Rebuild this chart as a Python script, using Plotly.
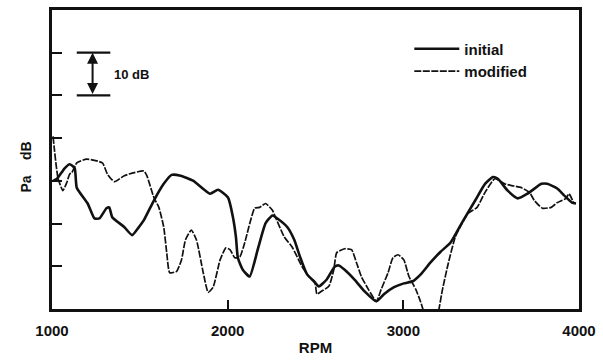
import plotly.graph_objects as go

# Engine speed sweep, relative sound pressure level (dB, 10 dB per tick)
rpm_initial = [1006, 1028, 1073, 1101, 1129, 1141, 1203, 1242, 1270, 1310, 1326, 1343,
               1411, 1456, 1495, 1523, 1580, 1636, 1681, 1732, 1805, 1900, 1945, 2002,
               2030, 2047, 2058, 2086, 2125, 2171, 2216, 2255, 2283, 2339, 2379, 2412,
               2452, 2491, 2519, 2564, 2609, 2632, 2666, 2722, 2778, 2846, 2891, 2947,
               3003, 3054, 3099, 3155, 3212, 3268, 3335, 3409, 3465, 3510, 3538, 3594,
               3651, 3707, 3786, 3819, 3876, 3915, 3960, 3983]
db_initial = [30.0, 30.5, 33.0, 33.9, 33.0, 28.4, 24.7, 21.2, 21.2, 23.6, 23.8, 21.5,
              19.2, 17.3, 19.2, 20.8, 25.4, 29.3, 31.4, 31.2, 30.0, 27.0, 27.9, 26.1,
              21.5, 16.9, 12.0, 9.2, 7.6, 13.9, 20.1, 21.9, 21.2, 19.2, 16.2, 12.2,
              8.1, 6.5, 5.3, 6.9, 9.9, 10.2, 9.2, 6.9, 4.2, 1.8, 3.5, 5.1,
              6.0, 6.5, 8.1, 10.9, 13.4, 15.5, 20.3, 25.4, 29.3, 30.9, 30.5, 27.7,
              25.9, 27.0, 29.3, 29.3, 28.2, 26.6, 24.9, 24.7]

rpm_modified = [1006, 1034, 1062, 1084, 1101, 1113, 1141, 1197, 1287, 1315, 1355, 1411,
                1439, 1523, 1540, 1580, 1608, 1636, 1653, 1670, 1709, 1737, 1760, 1793,
                1822, 1861, 1889, 1917, 1957, 1990, 2013, 2041, 2069, 2097, 2154, 2182,
                2216, 2255, 2272, 2322, 2367, 2424, 2463, 2497, 2508, 2536, 2576, 2604,
                2621, 2666, 2705, 2733, 2761, 2801, 2846, 2874, 2913, 2941, 2970, 3003,
                3032, 3071, 3099, 3116, 3138, 3183, 3200, 3223, 3257, 3296, 3335, 3369,
                3420, 3465, 3521, 3577, 3617, 3673, 3718, 3746, 3791, 3842, 3876, 3926,
                3943, 3971]
db_modified = [40.4, 30.7, 27.7, 29.6, 31.6, 31.9, 34.2, 35.1, 34.2, 31.6, 29.8, 31.2,
               31.6, 32.3, 31.2, 26.1, 23.8, 19.2, 13.2, 8.5, 8.8, 11.5, 16.2, 18.5,
               16.2, 8.5, 3.9, 5.1, 11.5, 14.3, 13.9, 12.0, 12.2, 15.5, 23.6, 23.8,
               24.7, 23.1, 21.5, 16.9, 14.5, 9.9, 7.6, 6.2, 3.5, 4.2, 5.3, 9.2,
               13.2, 14.1, 13.9, 10.9, 7.6, 4.6, 1.8, 4.6, 8.5, 12.0, 12.7, 11.5,
               7.6, 4.6, 1.6, -0.7, -4.5, -4.5, -0.7, 4.6, 10.9, 16.9, 20.1, 22.4,
               23.8, 27.3, 30.5, 29.3, 28.9, 28.4, 27.3, 25.4, 23.6, 23.8, 24.9, 25.9,
               27.0, 24.7]

x_ticks = [1000, 2000, 3000, 4000]
x_tick_labels = ["1000", "2000", "3000", "4000"]
y_ticks = [10, 20, 30, 40, 50, 60]
scale_bar_db = [50, 60]          # the "10 dB" reference bar
scale_bar_rpm = [1141, 1332]
scale_arrow_rpm = 1231

FONT = "Liberation Sans, Arial, sans-serif"
INK = "#111111"

fig = go.Figure()
fig.add_trace(go.Scatter(
    x=rpm_initial, y=db_initial, name="initial", mode="lines",
    line=dict(color=INK, width=2.6, shape="spline", smoothing=0.5),
))
fig.add_trace(go.Scatter(
    x=rpm_modified, y=db_modified, name="modified", mode="lines",
    line=dict(color=INK, width=1.7, dash="7px,1.5px", shape="spline", smoothing=0.5),
))

# 10 dB scale bar: two horizontal rules with a double-headed arrow between them
for level in scale_bar_db:
    fig.add_shape(type="line", xref="x", yref="y",
                  x0=scale_bar_rpm[0], x1=scale_bar_rpm[1], y0=level, y1=level,
                  line=dict(color=INK, width=2.2))
fig.add_annotation(x=scale_arrow_rpm, y=scale_bar_db[1], ax=scale_arrow_rpm, ay=scale_bar_db[0],
                   xref="x", yref="y", axref="x", ayref="y", text="",
                   showarrow=True, arrowhead=2, arrowside="end+start",
                   arrowsize=1.1, arrowwidth=2, arrowcolor=INK)
fig.add_annotation(x=scale_bar_rpm[1] + 11, y=sum(scale_bar_db) / 2, xref="x", yref="y",
                   text="10 dB", showarrow=False, xanchor="left",
                   font=dict(family=FONT, size=13, color=INK, weight="bold"))

# y-axis title
fig.add_annotation(x=-0.069, y=0.475, xref="paper", yref="paper",
                   text="Pa\u00a0\u00a0\u00a0\u00a0dB", textangle=-90, showarrow=False,
                   font=dict(family=FONT, size=14, color=INK, weight="bold"))

fig.update_layout(
    width=603, height=361,
    margin=dict(l=52, r=18, t=7, b=51),
    paper_bgcolor="white", plot_bgcolor="white",
    font=dict(family=FONT, color=INK),
    showlegend=True,
    legend=dict(x=0.678, y=0.925, xanchor="left", yanchor="top",
                bgcolor="rgba(0,0,0,0)", borderwidth=0, itemwidth=45,
                font=dict(family=FONT, size=15, color=INK, weight="bold"),
                tracegroupgap=0),
    xaxis=dict(
        range=[1000, 4000], tickmode="array", tickvals=x_ticks, ticktext=x_tick_labels,
        ticks="inside", ticklen=9, tickwidth=2.2, tickcolor=INK,
        showline=True, linecolor=INK, linewidth=2.6, mirror=True,
        showgrid=False, zeroline=False, ticklabelstandoff=6,
        tickfont=dict(family=FONT, size=15, color=INK, weight="bold"),
        title=dict(text="RPM", standoff=5,
                   font=dict(family=FONT, size=15, color=INK, weight="bold")),
    ),
    yaxis=dict(
        range=[0, 70], tickmode="array", tickvals=y_ticks, showticklabels=False,
        ticks="inside", ticklen=10, tickwidth=2.4, tickcolor=INK,
        showline=True, linecolor=INK, linewidth=2.6, mirror=True,
        showgrid=False, zeroline=False,
    ),
)

fig.write_html("out.html")
